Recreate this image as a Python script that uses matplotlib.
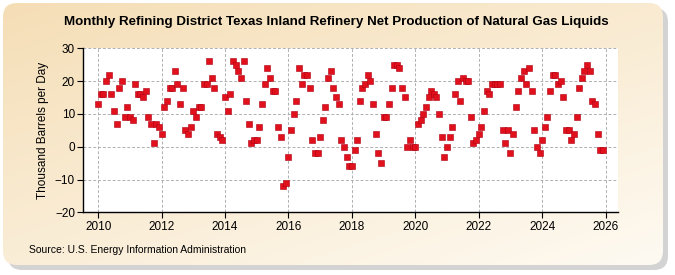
import numpy as np
import matplotlib.pyplot as plt
from matplotlib.patches import FancyBboxPatch

# monthly values, Jan 2010 .. Dec 2025 (thousand barrels per day)
start_year = 2010
values = [
    13, 16, 16, 20, 22, 16, 11, 7, 18, 20, 9, 12,
    9, 8, 19, 16, 16, 15, 17, 9, 7, 1, 7, 6,
    4, 12, 14, 18, 18, 23, 19, 13, 18, 5, 4, 6,
    11, 9, 12, 12, 19, 19, 26, 21, 18, 4, 3, 2,
    15, 11, 16, 26, 25, 23, 21, 26, 14, 7, 1, 2,
    2, 6, 13, 19, 24, 21, 17, 17, 6, 3, -12, -11,
    -3, 5, 10, 14, 24, 19, 22, 22, 18, 2, -2, -2,
    3, 8, 12, 21, 23, 18, 15, 13, 2, 0, -3, -6,
    -6, -1, 2, 14, 18, 19, 22, 20, 13, 4, -2, -5,
    9, 9, 13, 18, 25, 25, 24, 18, 15, 0, 2, 0,
    0, 7, 8, 10, 12, 15, 17, 16, 15, 10, 3, -3,
    0, 3, 6, 16, 20, 14, 21, 20, 20, 9, 1, 2,
    4, 6, 11, 17, 16, 19, 19, 19, 19, 5, 1, 5,
    -2, 4, 12, 17, 21, 23, 19, 24, 17, 5, 0, -2,
    2, 6, 9, 17, 22, 22, 19, 20, 15, 5, 5, 2,
    4, 9, 18, 21, 23, 25, 23, 14, 13, 4, -1, -1,
]
x_ticks = [2010, 2012, 2014, 2016, 2018, 2020, 2022, 2024, 2026]
y_ticks = [-20, -10, 0, 10, 20, 30]

title = "Monthly Refining District Texas Inland Refinery Net Production of Natural Gas Liquids"
ylabel = "Thousand Barrels per Day"
source = "Source: U.S. Energy Information Administration"

plt.rcParams['font.family'] = ['Liberation Sans', 'DejaVu Sans']

fig = plt.figure(figsize=(6.75, 2.75), dpi=100)
fig.patch.set_facecolor('white')

# background frame: shadow + beige gradient rounded box
bg = fig.add_axes([0, 0, 1, 1], zorder=-10)
bg.set_xlim(0, 675)
bg.set_ylim(275, 0)
bg.axis('off')
shadow = FancyBboxPatch((8, 8), 660, 262, boxstyle="round,pad=0,rounding_size=14",
                        fc='#c8c8c8', ec='none', alpha=0.8)
bg.add_patch(shadow)
frame = FancyBboxPatch((3, 3), 660, 262, boxstyle="round,pad=0,rounding_size=14",
                       fc='none', ec='none')
bg.add_patch(frame)
gx, gy = np.meshgrid(np.linspace(0, 1, 200), np.linspace(0, 1, 100))
t = np.clip(0.55 * gy + 0.45 * gx, 0, 1)
top = np.array([245, 222, 182]) / 255
bot = np.array([254, 250, 242]) / 255
grad = top[None, None, :] * (1 - t[..., None]) + bot[None, None, :] * t[..., None]
im = bg.imshow(grad, extent=[3, 663, 265, 3], aspect='auto', zorder=1)
im.set_clip_path(frame)

ax = fig.add_axes([83.3 / 675, 1 - 212.3 / 275, (618.3 - 83.3) / 675, (212.3 - 48.3) / 275])
ax.set_facecolor('white')

x = start_year + np.arange(len(values)) / 12.0
ax.plot(x, values, linestyle='none', marker='s', markersize=3.8,
        markerfacecolor='#e0101c', markeredgecolor='#b00010', markeredgewidth=0.4, zorder=3)

ax.set_xlim(2009.53, 2026.4)
ax.set_ylim(-20, 30)
ax.set_xticks(x_ticks)
ax.set_yticks(y_ticks)
ax.tick_params(labelsize=8.5, length=4, width=0.8, color='black', pad=2)
ax.grid(True, linestyle=(0, (3, 2)), color='#b0b0b0', linewidth=0.7)
ax.set_axisbelow(True)
for s in ['top', 'right']:
    ax.spines[s].set_visible(False)
for s in ['left', 'bottom']:
    ax.spines[s].set_linewidth(1.0)
ax.set_ylabel(ylabel, fontsize=8.5, labelpad=4)

fig.text(336 / 675, 1 - 22 / 275, title, ha='center', va='center', fontsize=9.6, fontweight='bold')
fig.text(29 / 675, 1 - 250 / 275, source, ha='left', va='center', fontsize=7.5)

fig.savefig('out.png', dpi=100)
